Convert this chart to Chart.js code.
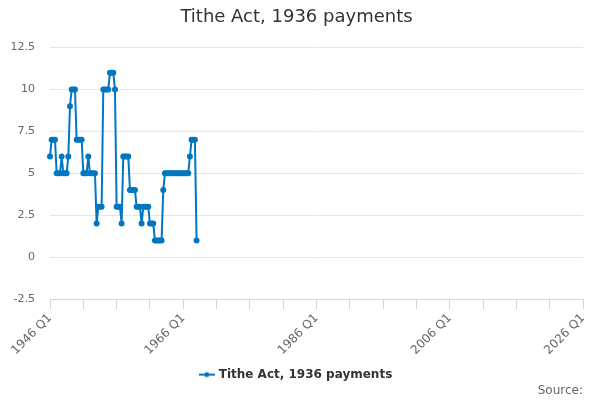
<!DOCTYPE html>
<html>
<head>
<meta charset="utf-8">
<script src="https://cdn.jsdelivr.net/npm/chart.js@4.4.0/dist/chart.umd.min.js"></script>
<style>
  html, body { margin: 0; padding: 0; background: #fff; }
  #wrap { width: 600px; height: 400px; }
</style>
</head>
<body>
<div id="wrap"><canvas id="titheChart"></canvas></div>
<script>
// quarterly series starting 1946 Q1
const firstYear = 1946;
const lastYear = 2026;
const seriesName = 'Tithe Act, 1936 payments';
const payments = [
  6, 7, 7, 7, 5, 5, 5, 6, 5, 5,
  5, 6, 9, 10, 10, 10, 7, 7, 7, 7,
  5, 5, 5, 6, 5, 5, 5, 5, 2, 3,
  3, 3, 10, 10, 10, 10, 11, 11, 11, 10,
  3, 3, 3, 2, 6, 6, 6, 6, 4, 4,
  4, 4, 3, 3, 3, 2, 3, 3, 3, 3,
  2, 2, 2, 1, 1, 1, 1, 1, 4, 5,
  5, 5, 5, 5, 5, 5, 5, 5, 5, 5,
  5, 5, 5, 5, 6, 7, 7, 7, 1
];
const tickLabels = ['1946 Q1', '1966 Q1', '1986 Q1', '2006 Q1', '2026 Q1'];
const yTicks = [-2.5, 0, 2.5, 5, 7.5, 10, 12.5];

// every quarter of the axis, 1946 Q1 .. 2026 Q1
const quarters = [];
for (let y = firstYear; y <= lastYear; y++) {
  for (let q = 1; q <= 4; q++) {
    quarters.push(y + ' Q' + q);
    if (y === lastYear) break;
  }
}

const blue = '#0077c0';
const font = "'DejaVu Sans', Verdana, sans-serif";

// legend symbol: short line with a dot
function legendSymbol() {
  const c = document.createElement('canvas');
  c.width = 16; c.height = 8;
  const g = c.getContext('2d');
  g.strokeStyle = blue;
  g.lineWidth = 2;
  g.beginPath(); g.moveTo(0, 4); g.lineTo(16, 4); g.stroke();
  g.fillStyle = blue;
  g.beginPath(); g.arc(8, 4, 2.5, 0, Math.PI * 2); g.fill();
  return c;
}

const ctx = document.getElementById('titheChart').getContext('2d');
new Chart(ctx, {
  type: 'line',
  data: {
    labels: quarters,
    datasets: [{
      label: seriesName,
      data: payments,
      borderColor: blue,
      backgroundColor: blue,
      borderWidth: 2,
      pointRadius: 2,
      pointHoverRadius: 3,
      fill: false,
      tension: 0
    }]
  },
  options: {
    responsive: true,
    maintainAspectRatio: false,
    animation: false,
    layout: { padding: { left: 10, right: 17, top: 0, bottom: 0 } },
    scales: {
      x: {
        type: 'category',
        offset: false,
        border: { color: '#ccd6eb' },
        grid: {
          drawOnChartArea: false,
          tickLength: 10,
          color: '#ccd6eb'
        },
        afterFit: function(scale) {
          // let the first rotated label hang into the left margin
          scale.paddingLeft = 0;
          scale.paddingRight = 0;
        },
        ticks: {
          autoSkip: false,
          minRotation: 45,
          maxRotation: 45,
          padding: 2,
          color: '#666666',
          font: { family: font, size: 12 },
          callback: function(value, index) {
            if (index % 80 === 0) return tickLabels[index / 80];
            if (index % 20 === 0) return '';
            return null;
          }
        }
      },
      y: {
        min: -2.5,
        max: 12.5,
        afterBuildTicks: function(scale) {
          scale.ticks = yTicks.map(v => ({ value: v }));
        },
        afterFit: function(scale) {
          scale.width = 40;
        },
        border: { display: false },
        grid: { color: '#e6e6e6', drawTicks: false },
        ticks: {
          padding: 15,
          color: '#666666',
          font: { family: font, size: 11 }
        }
      }
    },
    plugins: {
      title: {
        display: true,
        text: seriesName,
        color: '#333333',
        font: { family: font, size: 18, weight: 'normal' },
        padding: { top: 7, bottom: 19 }
      },
      subtitle: {
        display: true,
        position: 'bottom',
        align: 'end',
        text: 'Source:',
        color: '#666666',
        font: { family: font, size: 12, weight: 'normal' },
        padding: { top: -7, bottom: 2 }
      },
      legend: {
        position: 'bottom',
        labels: {
          usePointStyle: true,
          pointStyle: legendSymbol(),
          color: '#333333',
          font: { family: font, size: 12, weight: 'bold' },
          padding: 9
        }
      },
      tooltip: { enabled: false }
    }
  }
});
</script>
</body>
</html>
